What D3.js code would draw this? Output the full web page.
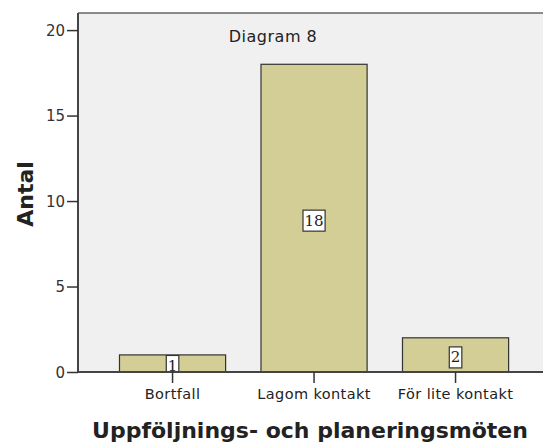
<!DOCTYPE html>
<html>
<head>
<meta charset="utf-8">
<script src="https://cdn.jsdelivr.net/npm/d3@7"></script>
<style>
  body { margin: 0; background: #fff; }
  svg { display: block; }
  .tick text { font-family: "DejaVu Sans", sans-serif; }
</style>
</head>
<body>
<div class="chart"></div>
<script>
// data
const categories = ["Bortfall", "Lagom kontakt", "För lite kontakt"];
const counts = [1, 18, 2];
const yTicks = [0, 5, 10, 15, 20];

const width = 543, height = 445;
const plotLeft = 78, plotTop = 13, plotBottom = 372;

var svg = d3.select(".chart")
  .append("svg")
  .attr("width", width)
  .attr("height", height);

var y = d3.scaleLinear()
  .domain([0, 21])
  .range([plotBottom, plotTop]);

var x = d3.scaleBand()
  .domain(categories)
  .range([101.8, 526.3])
  .paddingInner(0.25)
  .paddingOuter(0.125);

// plot background
svg.append("rect")
  .attr("x", plotLeft)
  .attr("y", plotTop)
  .attr("width", width - plotLeft + 5)
  .attr("height", plotBottom - plotTop)
  .attr("fill", "#f0f0f0");

// top frame
svg.append("line")
  .attr("x1", plotLeft).attr("x2", width)
  .attr("y1", plotTop).attr("y2", plotTop)
  .attr("stroke", "#666")
  .attr("stroke-width", 1.5);

// bars
var bars = svg.append("g").attr("class", "bars")
  .selectAll("g")
  .data(categories)
  .enter().append("g");

bars.append("clipPath")
  .attr("id", (d, i) => "clip" + i)
  .append("rect")
  .attr("x", d => x(d))
  .attr("y", (d, i) => y(counts[i]))
  .attr("width", x.bandwidth())
  .attr("height", (d, i) => y(0) - y(counts[i]));

bars.append("rect")
  .attr("x", d => x(d))
  .attr("y", (d, i) => y(counts[i]))
  .attr("width", x.bandwidth())
  .attr("height", (d, i) => y(0) - y(counts[i]))
  .attr("fill", "#d3ce96")
  .attr("stroke", "#333")
  .attr("stroke-width", 1.2);

// value labels in little white boxes
var lab = bars.append("g")
  .attr("clip-path", (d, i) => "url(#clip" + i + ")");

lab.append("text")
  .attr("class", "val")
  .attr("x", d => x(d) + x.bandwidth() / 2)
  .attr("y", (d, i) => (y(counts[i]) + y(0)) / 2 + 7.5)
  .attr("text-anchor", "middle")
  .style("font-family", "DejaVu Serif, serif")
  .style("font-size", "15px")
  .attr("fill", "#222")
  .text((d, i) => counts[i]);

lab.each(function() {
  var t = d3.select(this).select("text");
  var bb = t.node().getBBox();
  d3.select(this).insert("rect", "text")
    .attr("x", bb.x - 1.5)
    .attr("y", bb.y + bb.height / 2 - 10.5)
    .attr("width", bb.width + 3)
    .attr("height", 21)
    .attr("fill", "#fff")
    .attr("stroke", "#333")
    .attr("stroke-width", 1.2);
});

// axes
var yAxis = svg.append("g")
  .attr("transform", "translate(" + plotLeft + ",0)")
  .call(d3.axisLeft(y).tickValues(yTicks).tickSize(11).tickPadding(2).tickSizeOuter(0));
yAxis.select(".domain").attr("stroke", "#444").attr("stroke-width", 2)
  .attr("d", "M0," + plotTop + "V" + plotBottom);
yAxis.selectAll(".tick line").attr("stroke", "#333").attr("stroke-width", 1.5);
yAxis.selectAll(".tick text")
  .style("font-size", "15px")
  .attr("fill", "#333")
  .attr("dy", "0.36em");

var xAxis = svg.append("g")
  .attr("transform", "translate(0," + plotBottom + ")")
  .call(d3.axisBottom(x).tickSize(11).tickPadding(6).tickSizeOuter(0));
xAxis.select(".domain").attr("stroke", "#444").attr("stroke-width", 2)
  .attr("d", "M" + plotLeft + ",0H" + width);
xAxis.selectAll(".tick line").attr("stroke", "#333").attr("stroke-width", 1.5);
xAxis.selectAll(".tick text")
  .style("font-size", "14.5px")
  .style("letter-spacing", "0.4px")
  .attr("fill", "#222");

// titles
svg.append("text")
  .attr("x", 273)
  .attr("y", 42)
  .attr("text-anchor", "middle")
  .style("font-family", "DejaVu Sans, sans-serif")
  .style("font-size", "16px")
  .style("letter-spacing", "0.5px")
  .attr("fill", "#222")
  .text("Diagram 8");

svg.append("text")
  .attr("transform", "translate(33,194) rotate(-90)")
  .attr("text-anchor", "middle")
  .style("font-family", "DejaVu Sans, sans-serif")
  .style("font-weight", "bold")
  .style("font-size", "22px")
  .attr("fill", "#222")
  .text("Antal");

svg.append("text")
  .attr("x", 310)
  .attr("y", 438)
  .attr("text-anchor", "middle")
  .style("font-family", "DejaVu Sans, sans-serif")
  .style("font-weight", "bold")
  .style("font-size", "22px")
  .attr("fill", "#222")
  .text("Uppföljnings- och planeringsmöten");
</script>
</body>
</html>
